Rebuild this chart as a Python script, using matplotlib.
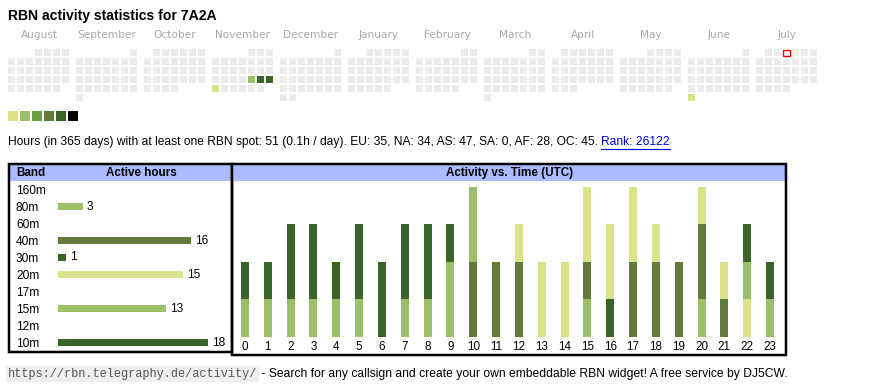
import datetime as dt
import numpy as np
import matplotlib
matplotlib.use("Agg")
from matplotlib import pyplot as plt
from matplotlib.patches import Rectangle

plt.rcParams['font.family'] = ['Liberation Sans', 'DejaVu Sans']

callsign = "7A2A"
first_month = dt.date(2024, 8, 1)
today = dt.date(2025, 7, 3)
active_days = [dt.date(2024, 11, 22), dt.date(2024, 11, 23), dt.date(2024, 11, 24),
               dt.date(2024, 11, 25), dt.date(2025, 6, 30)]
active_levels = [2, 5, 5, 1, 1]

level_colors = ['#dae28a', '#9cc06a', '#6a9f44', '#647a3a', '#3b6428', '#000000']
empty_color = '#ebebeb'

summary = ("Hours (in 365 days) with at least one RBN spot: 51 (0.1h / day). "
           "EU: 35, NA: 34, AS: 47, SA: 0, AF: 28, OC: 45. ")
rank_text = "Rank: 26122"

bands = ['160m', '80m', '60m', '40m', '30m', '20m', '17m', '15m', '12m', '10m']
band_hours = [0, 3, 0, 16, 1, 15, 0, 13, 0, 18]
band_colors = ['#6a9f44', '#9cc06a', '#000000', '#647a3a', '#3b6428',
               '#dae28a', '#6a9f44', '#9cc06a', '#000000', '#3b6428']

hours = list(range(24))
# active hours per UTC hour, one list per band (same order as bands)
hourly = {
    '160m': [0] * 24,
    '80m':  [0, 0, 0, 0, 0, 0, 0, 0, 0, 1, 0, 0, 0, 0, 0, 1, 0, 0, 0, 0, 1, 0, 0, 0],
    '60m':  [0] * 24,
    '40m':  [0, 0, 0, 0, 0, 0, 0, 0, 0, 0, 2, 2, 2, 0, 0, 1, 0, 2, 2, 2, 2, 1, 0, 0],
    '30m':  [0, 0, 0, 0, 0, 0, 0, 0, 0, 0, 0, 0, 0, 0, 0, 0, 1, 0, 0, 0, 0, 0, 0, 0],
    '20m':  [0, 0, 0, 0, 0, 0, 0, 0, 0, 0, 0, 0, 1, 2, 2, 2, 2, 2, 1, 0, 1, 1, 1, 0],
    '17m':  [0] * 24,
    '15m':  [1, 1, 1, 1, 1, 1, 0, 1, 1, 1, 2, 0, 0, 0, 0, 0, 0, 0, 0, 0, 0, 0, 1, 1],
    '12m':  [0] * 24,
    '10m':  [1, 1, 2, 2, 1, 2, 2, 2, 2, 1, 0, 0, 0, 0, 0, 0, 0, 0, 0, 0, 0, 0, 1, 1],
}

W, H = 870, 390
header_blue = '#aabbff'
px = 72 / 100  # points per pixel

fig = plt.figure(figsize=(W / 100, H / 100), dpi=100)
page = fig.add_axes([0, 0, 1, 1])
page.set_xlim(0, W)
page.set_ylim(H, 0)
page.axis('off')


def pixel_axes(x0, y0, x1, y1):
    return fig.add_axes([x0 / W, 1 - y1 / H, (x1 - x0) / W, (y1 - y0) / H])


# title
page.text(8, 16, f"RBN activity statistics for {callsign}", fontsize=10.1,
          fontweight='bold', va='center', ha='left')

# calendar heatmap, one 7-column block per month, Monday first
levels = dict(zip(active_days, active_levels))
for m in range(12):
    y, mo = first_month.year + (first_month.month - 1 + m) // 12, (first_month.month - 1 + m) % 12 + 1
    start = dt.date(y, mo, 1)
    bx = 8 + 68 * m
    page.text(bx + 31, 35, start.strftime('%B'), ha='center', va='center',
              fontsize=7.6, color='#a8a8a8', family='DejaVu Sans')
    day = start
    while day.month == mo:
        row = (day.day - 1 + start.weekday()) // 7
        cx, cy = bx + 9 * day.weekday(), 49 + 9 * row
        lvl = levels.get(day)
        face = level_colors[lvl - 1] if lvl else empty_color
        if day == today:
            page.add_patch(Rectangle((cx + 0.5, cy + 0.5), 6.5, 6.5, facecolor='white',
                                     edgecolor='red', lw=1))
        else:
            page.add_patch(Rectangle((cx, cy), 7, 7, facecolor=face, edgecolor='none'))
        day += dt.timedelta(days=1)

# legend squares
for i, c in enumerate(level_colors):
    page.add_patch(Rectangle((8 + 12 * i, 111), 10, 10, facecolor=c, edgecolor='none'))

# summary line with rank link
t = page.text(8, 142, summary, fontsize=8.65, va='center', ha='left')
fig.canvas.draw()
r = fig.canvas.get_renderer()
bb = t.get_window_extent(r).transformed(page.transData.inverted())
lt = page.text(bb.x1, 142, rank_text, fontsize=8.65, va='center', ha='left', color='#0000ee')
lb = lt.get_window_extent(r).transformed(page.transData.inverted())
page.plot([lb.x0, lb.x1], [148.5, 148.5], color='#0000ee', lw=0.8)

# boxes and headers
page.add_patch(Rectangle((10, 165), 221, 15.5, facecolor=header_blue, edgecolor='none'))
page.add_patch(Rectangle((234, 165), 551, 15.5, facecolor=header_blue, edgecolor='none'))
page.add_patch(Rectangle((9.5, 164), 223, 187.5, facecolor='none', edgecolor='black', lw=2.5 * px))
page.add_patch(Rectangle((232.5, 164), 553.5, 190.5, facecolor='none', edgecolor='black', lw=2.5 * px))
page.text(16, 173, "Band", fontweight='bold', fontsize=8.4, va='center')
page.text(141.5, 173, "Active hours", fontweight='bold', fontsize=8.4, va='center', ha='center')
page.text(509.5, 173, "Activity vs. Time (UTC)", fontweight='bold', fontsize=8.4,
          va='center', ha='center')

# band table
ax_b = pixel_axes(58, 181, 231, 351)
ypos = np.arange(len(bands))
ax_b.barh(ypos, band_hours, height=0.41, color=band_colors)
for yy, v in zip(ypos, band_hours):
    if v:
        ax_b.text(v + 0.45, yy, str(v), va='center', ha='left', fontsize=8.6)
ax_b.set_xlim(0, 173 / 8.33)
ax_b.set_ylim(len(bands) - 0.5, -0.5)
ax_b.set_yticks(ypos)
ax_b.set_yticklabels(bands, fontsize=8.6)
ax_b.set_xticks([])
ax_b.tick_params(axis='y', length=0, pad=(58 - 16) * px)
for lbl in ax_b.get_yticklabels():
    lbl.set_horizontalalignment('left')
for s in ax_b.spines.values():
    s.set_visible(False)
ax_b.patch.set_alpha(0)

# activity vs time
ax_a = pixel_axes(234, 181, 785, 336.7)
bottom = np.zeros(24)
for band, c in zip(bands, band_colors):
    vals = np.array(hourly[band])
    if vals.any():
        ax_a.bar(hours, vals, bottom=bottom, width=0.35, color=c)
        bottom += vals
pitch = (770 - 245) / 23
ax_a.set_xlim(-(245 - 234) / pitch, 23 + (785 - 770) / pitch)
ax_a.set_ylim(0, (336.7 - 181) / 37.5)
ax_a.set_xticks(hours)
ax_a.set_xticklabels([str(h) for h in hours], fontsize=8.4)
ax_a.set_yticks([])
ax_a.tick_params(axis='x', length=0, pad=3)
for s in ax_a.spines.values():
    s.set_visible(False)
ax_a.patch.set_alpha(0)

# footer
ft = page.text(8, 374, "https://rbn.telegraphy.de/activity/", family='Liberation Mono',
               fontsize=8.6, color='#555555', va='center', ha='left',
               bbox=dict(facecolor='#eeeeee', edgecolor='none', pad=1.2))
fb = ft.get_window_extent(r).transformed(page.transData.inverted())
page.text(fb.x1 + 1, 374, " - Search for any callsign and create your own embeddable RBN widget! "
          "A free service by DJ5CW.", fontsize=8.7, va='center', ha='left')

fig.savefig('out.png', dpi=100)
